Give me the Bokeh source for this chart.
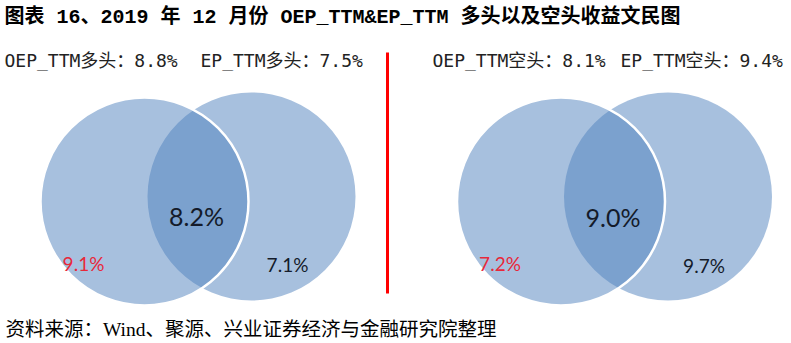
from bokeh.plotting import figure
from bokeh.models import Range1d, ColumnDataSource
from bokeh.core.properties import value
from bokeh.embed import file_html
from bokeh.resources import INLINE

# ---------------- data ----------------
title = "图表 16、2019 年 12 月份 OEP_TTM&EP_TTM 多头以及空头收益文民图"
source_note = "资料来源：Wind、聚源、兴业证券经济与金融研究院整理"
panels = ["多头", "空头"]
oep_total = [8.8, 8.1]     # OEP_TTM 组合收益 (%)
ep_total = [7.5, 9.4]      # EP_TTM 组合收益 (%)
oep_only = [9.1, 7.2]      # 仅 OEP_TTM (%)
both = [8.2, 9.0]          # 交集 (%)
ep_only = [7.1, 9.7]       # 仅 EP_TTM (%)

# ---------------- layout ----------------
W, H = 791, 343
panel_dx = [0, 416.5]
R = 104
cL = (144, 201)
cR = (251, 196)
hdr1_x = [4, 432]
hdr2_x = [200, 620]
hdr_y = 60

p = figure(width=W, height=H, x_range=Range1d(0, W), y_range=Range1d(H, 0),
           output_backend="svg", toolbar_location=None, min_border=0)
p.axis.visible = False
p.grid.visible = False
p.outline_line_color = None
p.background_fill_color = "white"
p.border_fill_color = "white"

BLUE = "#4F81BD"

# right circles first (no visible outline), then left circles with white outline
p.circle(x=[cR[0] + d for d in panel_dx], y=[cR[1]] * 2, radius=R,
         fill_color=BLUE, fill_alpha=0.5, line_color=None)
p.circle(x=[cL[0] + d for d in panel_dx], y=[cL[1]] * 2, radius=R,
         fill_color=BLUE, fill_alpha=0.5, line_color="white", line_width=2.5)

def fmt(v):
    return f"{v:.1f}%"

# percentage labels
lab = ColumnDataSource(dict(
    x=[83 + d for d in panel_dx],
    y=[263, 263],
    t=[fmt(v) for v in oep_only]))
p.text(x="x", y="y", text="t", source=lab, text_font=value("Lato"),
       text_font_size="19px", text_color="#E8283A",
       text_align="center", text_baseline="middle")

lab2 = ColumnDataSource(dict(
    x=[287 + d for d in panel_dx],
    y=[264, 265],
    t=[fmt(v) for v in ep_only]))
p.text(x="x", y="y", text="t", source=lab2, text_font=value("Lato"),
       text_font_size="19px", text_color="#141B2A",
       text_align="center", text_baseline="middle")

lab3 = ColumnDataSource(dict(
    x=[196 + d for d in panel_dx],
    y=[215, 216],
    t=[fmt(v) for v in both]))
p.text(x="x", y="y", text="t", source=lab3, text_font=value("Lato"),
       text_font_size="25px", text_color="#141B2A",
       text_align="center", text_baseline="middle")

# headers
hfont = value("DejaVu Sans Mono, Noto Sans CJK SC")
h1 = ColumnDataSource(dict(x=hdr1_x, y=[hdr_y] * 2,
                           t=[f"OEP_TTM{k}：{fmt(v)}" for k, v in zip(panels, oep_total)]))
h2 = ColumnDataSource(dict(x=hdr2_x, y=[hdr_y] * 2,
                           t=[f"EP_TTM{k}：{fmt(v)}" for k, v in zip(panels, ep_total)]))
for src in (h1, h2):
    p.text(x="x", y="y", text="t", source=src, text_font=hfont,
           text_font_size="18px", text_color="#222222",
           text_align="left", text_baseline="middle")

# divider
p.segment(x0=[387], y0=[52], x1=[387], y1=[293], line_color="#FF0000", line_width=3)

# title & source
p.text(x=[4], y=[17], text=[title], text_font=value("Liberation Mono, Noto Sans CJK SC"),
       text_font_size="20px", text_font_style="bold", text_color="#000000",
       text_align="left", text_baseline="middle")
p.text(x=[5], y=[329], text=[source_note], text_font=value("Liberation Serif, Noto Sans CJK SC"),
       text_font_size="19.5px", text_color="#000000",
       text_align="left", text_baseline="middle")

open("out.html", "w").write(file_html(p, INLINE))
